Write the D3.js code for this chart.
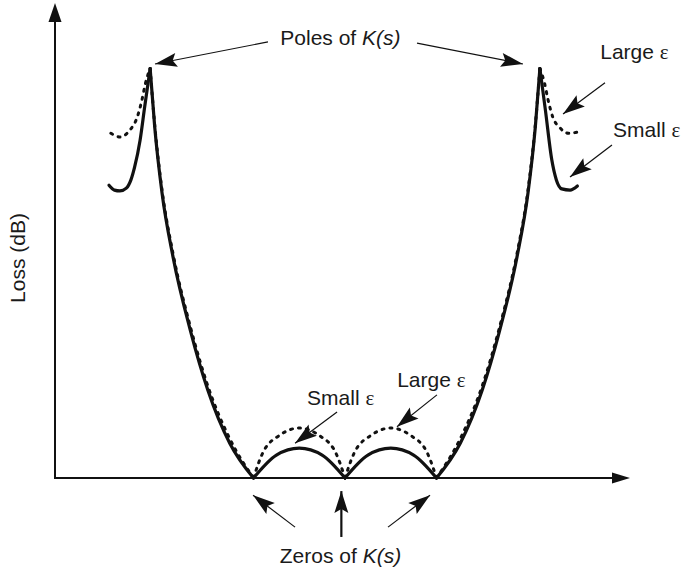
<!DOCTYPE html>
<html>
<head>
<meta charset="utf-8">
<script src="https://cdn.jsdelivr.net/npm/d3@7"></script>
<style>
  body { margin: 0; background: #fff; }
  text { font-family: "Liberation Sans", Arial, sans-serif; font-size: 21px; fill: #1a1a1a; }
  .eps { font-family: "Liberation Serif", "Times New Roman", serif; }
</style>
</head>
<body>
<div id="vis"></div>
<script>
const FRAME_WIDTH = 681;
const FRAME_HEIGHT = 573;

// normalized frequency (zeros at -1, 0, 1; poles near +-2.13) and loss (arbitrary dB)
const freqSmall = [-2.58, -2.52, -2.46, -2.39, -2.34, -2.30, -2.24, -2.19, -2.13, -2.08, -2.00, -1.88, -1.69, -1.50, -1.26, -1.00,
                   -0.75, -0.50, -0.25, 0, 0.25, 0.50, 0.75, 1.00,
                   1.26, 1.50, 1.69, 1.88, 2.00, 2.08, 2.13, 2.19, 2.26, 2.31, 2.37, 2.46, 2.54];
const lossSmall = [71.5, 70.3, 70.1, 70.8, 72.8, 75.9, 82.5, 90.6, 100, 85.7, 69.6, 54.0, 36.0, 21.5, 8.5, 0,
                   5.6, 7.3, 5.6, 0, 5.6, 7.3, 5.6, 0,
                   8.5, 21.5, 36.0, 54.0, 69.6, 85.7, 100, 89.9, 77.7, 72.8, 70.6, 70.3, 71.3];

const freqLarge = [-2.56, -2.46, -2.35, -2.27, -2.22, -2.18, -2.13, -2.08, -2.00, -1.88, -1.69, -1.50, -1.26, -1.00,
                   -0.90, -0.71, -0.50, -0.29, -0.10, 0, 0.10, 0.29, 0.50, 0.71, 0.90, 1.00,
                   1.26, 1.50, 1.69, 1.88, 2.00, 2.08, 2.13, 2.18, 2.22, 2.27, 2.35, 2.44, 2.55];
const lossLarge = [84.2, 83.3, 85.0, 88.2, 92.3, 96.5, 100, 86.2, 70.3, 54.8, 36.9, 22.5, 9.6, 0,
                   6.1, 10.5, 12.2, 10.5, 6.1, 0, 6.1, 10.5, 12.2, 10.5, 6.1, 0,
                   9.6, 22.5, 36.9, 54.8, 70.3, 86.2, 100, 96.5, 92.3, 88.2, 85.5, 84.2, 84.5];

// sharp points of the curves (poles and zeros)
const cuspFreq = [-2.13, -1, 0, 1, 2.13];

const X_SCALE = d3.scaleLinear().domain([-3.17, 3.115]).range([55, 630]);
const Y_SCALE = d3.scaleLinear().domain([0, 116]).range([478, 3]);

const svg = d3.select("#vis").append("svg")
  .attr("width", FRAME_WIDTH)
  .attr("height", FRAME_HEIGHT);

const defs = svg.append("defs");
defs.append("marker")
  .attr("id", "head")
  .attr("markerUnits", "userSpaceOnUse")
  .attr("viewBox", "-23 -8 24 16")
  .attr("refX", 0).attr("refY", 0)
  .attr("markerWidth", 24).attr("markerHeight", 16)
  .attr("orient", "auto")
  .append("path")
    .attr("d", "M0,0 L-22,-7 L-18,0 L-22,7 Z")
    .attr("fill", "#111");

// split a series at the cusps so each arc is smoothed on its own
function segments(freq, loss) {
  const segs = [];
  let cur = [];
  freq.forEach((f, i) => {
    cur.push([f, loss[i]]);
    if (cuspFreq.some(c => Math.abs(c - f) < 1e-9) && cur.length > 1) {
      segs.push(cur);
      cur = [[f, loss[i]]];
    }
  });
  if (cur.length > 1) segs.push(cur);
  return segs;
}

const line = d3.line()
  .x(d => X_SCALE(d[0]))
  .y(d => Y_SCALE(d[1]))
  .curve(d3.curveMonotoneX);

svg.append("g").selectAll("path")
  .data(segments(freqLarge, lossLarge))
  .enter().append("path")
    .attr("d", line)
    .attr("fill", "none")
    .attr("stroke", "#111")
    .attr("stroke-width", 3)
    .attr("stroke-linecap", "round")
    .attr("stroke-dasharray", "2,6");

svg.append("g").selectAll("path")
  .data(segments(freqSmall, lossSmall))
  .enter().append("path")
    .attr("d", line)
    .attr("fill", "none")
    .attr("stroke", "#111")
    .attr("stroke-width", 3.2)
    .attr("stroke-linejoin", "round")
    .attr("stroke-linecap", "round");

// axes with arrow heads
const x0 = X_SCALE.range()[0], x1 = X_SCALE.range()[1];
const y0 = Y_SCALE.range()[0], y1 = Y_SCALE.range()[1];
svg.append("line")
  .attr("x1", x0).attr("y1", y0).attr("x2", x0).attr("y2", y1 + 17)
  .attr("stroke", "#111").attr("stroke-width", 2);
svg.append("path")
  .attr("d", `M${x0},${y1} L${x0 - 6.5},${y1 + 19} L${x0 + 6.5},${y1 + 19} Z`)
  .attr("fill", "#111");
svg.append("line")
  .attr("x1", x0 - 1).attr("y1", y0).attr("x2", x1 - 16).attr("y2", y0)
  .attr("stroke", "#111").attr("stroke-width", 2);
svg.append("path")
  .attr("d", `M${x1},${y0} L${x1 - 18},${y0 - 5.5} L${x1 - 18},${y0 + 5.5} Z`)
  .attr("fill", "#111");

// annotation arrows: [tailFreq, tailLoss, tipFreq, tipLoss]
const arrows = [
  [-0.842, 106.5, -2.077, 101.1],
  [0.787, 106.2, 1.945, 101.1],
  [2.842, 96.5, 2.383, 88.9],
  [2.918, 81.3, 2.459, 73.5],
  [-0.087, 16.1, -0.546, 8.5],
  [1.005, 20.3, 0.568, 12.5],
  [-0.546, -12.0, -1.005, -4.2],
  [-0.04, -14.4, -0.04, -3.2],
  [0.470, -12.0, 0.929, -4.2]
];
svg.append("g").selectAll("line")
  .data(arrows)
  .enter().append("line")
    .attr("x1", d => X_SCALE(d[0])).attr("y1", d => Y_SCALE(d[1]))
    .attr("x2", d => X_SCALE(d[2])).attr("y2", d => Y_SCALE(d[3]))
    .attr("stroke", "#111")
    .attr("stroke-width", d => d[0] === d[2] ? 2.2 : 1.2)
    .attr("marker-end", "url(#head)");

// labels: parts are [text, style] with n = normal, i = italic, e = epsilon
const labels = [
  {f: -0.05, l: 105.8, anchor: "middle", parts: [["Poles of ", "n"], ["K(s)", "i"]]},
  {f: -0.05, l: -20.8, anchor: "middle", parts: [["Zeros of ", "n"], ["K(s)", "i"]]},
  {f: 2.79, l: 102.3, anchor: "start", parts: [["Large ", "n"], ["ε", "e"]]},
  {f: 2.93, l: 83.3, anchor: "start", parts: [["Small ", "n"], ["ε", "e"]]},
  {f: -0.415, l: 17.8, anchor: "start", parts: [["Small ", "n"], ["ε", "e"]]},
  {f: 0.57, l: 22.2, anchor: "start", parts: [["Large ", "n"], ["ε", "e"]]}
];
labels.forEach(lb => {
  const t = svg.append("text")
    .attr("x", X_SCALE(lb.f))
    .attr("y", Y_SCALE(lb.l))
    .attr("text-anchor", lb.anchor);
  lb.parts.forEach(p => {
    const s = t.append("tspan").text(p[0]);
    if (p[1] === "i") s.attr("font-style", "italic");
    if (p[1] === "e") s.attr("class", "eps");
  });
});

svg.append("text")
  .attr("transform", "translate(25,258) rotate(-90)")
  .attr("text-anchor", "middle")
  .text("Loss (dB)");
</script>
</body>
</html>
